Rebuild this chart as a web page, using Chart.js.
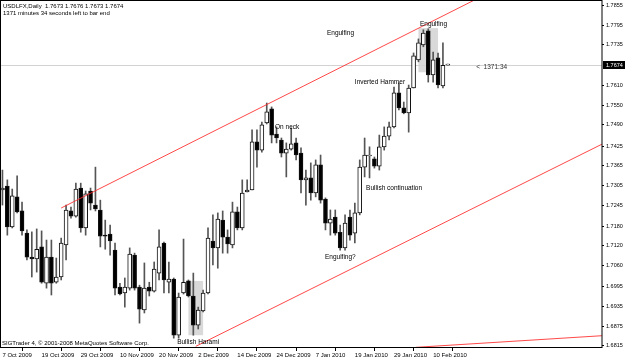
<!DOCTYPE html>
<html>
<head>
<meta charset="utf-8">
<script src="https://cdn.jsdelivr.net/npm/chart.js@4.4.1/dist/chart.umd.min.js"></script>
<style>
  html, body { margin: 0; padding: 0; background: #fff; }
  #wrap { width: 625px; height: 364px; }
</style>
</head>
<body>
<div id="wrap"><canvas id="chart" width="625" height="364"></canvas></div>
<script>
// USDLFX daily bars, 7 Oct 2009 .. 15 Feb 2010
const openP = [
  1.7291, 1.7303, 1.7178, 1.7270, 1.7227, 1.7159, 1.7086, 1.7080, 1.7117, 1.7006,
  1.7086, 1.7009, 1.7025, 1.7123, 1.7227, 1.7211, 1.7297, 1.7175, 1.7288, 1.7245,
  1.7230, 1.7153, 1.7156, 1.7107, 1.6994, 1.6976, 1.6991, 1.7092, 1.6994, 1.6924,
  1.6994, 1.6982, 1.7037, 1.7129, 1.7009, 1.7019, 1.6847, 1.6976, 1.7013, 1.6967,
  1.6878, 1.6921, 1.6976, 1.7135, 1.7114, 1.7199, 1.7147, 1.7123, 1.7224, 1.7175,
  1.7285, 1.7291, 1.7438, 1.7413, 1.7496, 1.7539, 1.7462, 1.7444, 1.7404, 1.7416,
  1.7435, 1.7404, 1.7322, 1.7328, 1.7282, 1.7368, 1.7263, 1.7190, 1.7208, 1.7162,
  1.7114, 1.7208, 1.7159, 1.7221, 1.7361, 1.7395, 1.7386, 1.7364, 1.7423, 1.7456,
  1.7484, 1.7588, 1.7542, 1.7527, 1.7603, 1.7689, 1.7735, 1.7778, 1.7643, 1.7695,
  1.7609, 1.7673
];
const highP = [
  1.7352, 1.7322, 1.7294, 1.7334, 1.7254, 1.7169, 1.7163, 1.7172, 1.7166, 1.7138,
  1.7138, 1.7083, 1.7144, 1.7245, 1.7239, 1.7312, 1.7312, 1.7288, 1.7297, 1.7361,
  1.7260, 1.7199, 1.7184, 1.7129, 1.7006, 1.7022, 1.7114, 1.7098, 1.7000, 1.7068,
  1.7009, 1.7071, 1.7169, 1.7132, 1.7071, 1.7022, 1.6976, 1.7141, 1.7016, 1.7037,
  1.6933, 1.6985, 1.7175, 1.7215, 1.7221, 1.7227, 1.7169, 1.7254, 1.7239, 1.7322,
  1.7322, 1.7475, 1.7475, 1.7499, 1.7557, 1.7545, 1.7484, 1.7450, 1.7435, 1.7481,
  1.7450, 1.7420, 1.7352, 1.7374, 1.7383, 1.7398, 1.7267, 1.7230, 1.7230, 1.7184,
  1.7215, 1.7230, 1.7251, 1.7383, 1.7450, 1.7423, 1.7392, 1.7459, 1.7484, 1.7499,
  1.7606, 1.7618, 1.7560, 1.7612, 1.7710, 1.7753, 1.7781, 1.7784, 1.7713, 1.7710,
  1.7741, 1.7676
];
const lowP = [
  1.7245, 1.7153, 1.7175, 1.7221, 1.7153, 1.7077, 1.7025, 1.7040, 1.7006, 1.6991,
  1.6970, 1.7006, 1.7016, 1.7077, 1.7205, 1.7208, 1.7162, 1.7153, 1.7230, 1.7227,
  1.7117, 1.7110, 1.7092, 1.6970, 1.6970, 1.6933, 1.6985, 1.6985, 1.6884, 1.6915,
  1.6967, 1.6979, 1.7016, 1.6976, 1.6976, 1.6838, 1.6838, 1.6973, 1.6964, 1.6847,
  1.6866, 1.6918, 1.6973, 1.7062, 1.7052, 1.7098, 1.7098, 1.7114, 1.7169, 1.7169,
  1.7285, 1.7291, 1.7361, 1.7407, 1.7493, 1.7435, 1.7435, 1.7392, 1.7331, 1.7413,
  1.7383, 1.7282, 1.7245, 1.7260, 1.7270, 1.7251, 1.7169, 1.7153, 1.7153, 1.7107,
  1.7107, 1.7138, 1.7129, 1.7215, 1.7331, 1.7328, 1.7358, 1.7352, 1.7413, 1.7444,
  1.7481, 1.7536, 1.7524, 1.7468, 1.7603, 1.7683, 1.7729, 1.7621, 1.7621, 1.7603,
  1.7603, 1.7673
];
const closeP = [
  1.7297, 1.7178, 1.7273, 1.7224, 1.7166, 1.7086, 1.7080, 1.7110, 1.7009, 1.7086,
  1.7006, 1.7025, 1.7129, 1.7230, 1.7211, 1.7294, 1.7175, 1.7279, 1.7251, 1.7233,
  1.7150, 1.7150, 1.7135, 1.6991, 1.6973, 1.6994, 1.7095, 1.6991, 1.6927, 1.6991,
  1.6982, 1.7049, 1.7117, 1.7016, 1.7019, 1.6847, 1.6964, 1.7009, 1.6967, 1.6878,
  1.6924, 1.6976, 1.7144, 1.7114, 1.7202, 1.7147, 1.7126, 1.7224, 1.7175, 1.7282,
  1.7291, 1.7438, 1.7413, 1.7490, 1.7530, 1.7459, 1.7450, 1.7404, 1.7416, 1.7432,
  1.7398, 1.7322, 1.7328, 1.7282, 1.7368, 1.7260, 1.7190, 1.7202, 1.7159, 1.7114,
  1.7190, 1.7153, 1.7221, 1.7361, 1.7398, 1.7395, 1.7364, 1.7423, 1.7456, 1.7484,
  1.7588, 1.7542, 1.7527, 1.7603, 1.7701, 1.7741, 1.7771, 1.7643, 1.7689, 1.7612,
  1.7672, 1.7674
];

// axis labels
const dateLabels = ['7 Oct 2009', '19 Oct 2009', '29 Oct 2009', '10 Nov 2009', '20 Nov 2009', '2 Dec 2009',
  '14 Dec 2009', '24 Dec 2009', '7 Jan 2010', '19 Jan 2010', '29 Jan 2010', '10 Feb 2010'];
const dateEvery = 8;        // a date label every 8 bars
const barSlots = 123;       // bars that fit across the window
const priceTicks = [1.7855, 1.7795, 1.7735, 1.7610, 1.7550, 1.7490, 1.7425, 1.7365, 1.7305, 1.7245,
  1.7180, 1.7120, 1.7060, 1.6995, 1.6935, 1.6875, 1.6815];
const priceMin = 1.6811, priceMax = 1.7872;

// trend lines, as [bar index, price]
const upperLine = [[12, 1.7236], [110, 1.7974]];
const lowerLine = [[39.5, 1.6813], [123, 1.7435]];
const bottomLine = [[84.5, 1.6810], [123, 1.6846]];

// highlighted pattern boxes: bar from/to, price top/bottom
const boxes = [
  { from: 38, to: 41, top: 1.7013, bottom: 1.6847 },
  { from: 85, to: 89, top: 1.7786, bottom: 1.7651 }
];

// pattern labels: text, bar index, price
const notes = [
  ['Engulfing', 66.3, 1.7771],
  ['Engulfing', 85.3, 1.7799],
  ['Inverted Hammer', 72.0, 1.7621],
  ['On neck', 55.7, 1.7484],
  ['Bullish continuation', 74.3, 1.7297],
  ['Engulfing?', 65.9, 1.7086],
  ['Bullish Harami', 35.7, 1.6826]
];

const lastPrice = closeP[closeP.length - 1];
const FONT = '"Liberation Sans", Arial, sans-serif';
const RED = 'rgba(255, 40, 40, 0.85)';

const bars = openP.map((o, i) => i);
const bodyData = bars.map(i => ({ x: i, y: [openP[i], closeP[i]] }));
const wickData = bars.map(i => ({ x: i, y: [lowP[i], highP[i]] }));
const toPts = arr => arr.map(p => ({ x: p[0], y: p[1] }));

const decor = {
  id: 'decor',
  beforeDatasetsDraw(chart) {
    const { ctx, chartArea: a, scales: { x, y } } = chart;
    ctx.save();
    ctx.fillStyle = '#d9d9d9';
    boxes.forEach(b => {
      const x0 = x.getPixelForValue(b.from), x1 = x.getPixelForValue(b.to);
      const y0 = y.getPixelForValue(b.top), y1 = y.getPixelForValue(b.bottom);
      ctx.fillRect(x0, y0, x1 - x0, y1 - y0);
    });
    // bid line
    const by = Math.round(y.getPixelForValue(lastPrice)) + 0.5;
    ctx.strokeStyle = '#d2d2d2';
    ctx.lineWidth = 1;
    ctx.beginPath();
    ctx.moveTo(a.left, by);
    ctx.lineTo(a.right, by);
    ctx.stroke();
    ctx.restore();
  },
  afterDraw(chart) {
    const { ctx, chartArea: a, scales: { x, y } } = chart;
    ctx.save();
    ctx.textBaseline = 'middle';
    ctx.textAlign = 'left';
    ctx.fillStyle = '#000';

    ctx.font = '6.5px ' + FONT;
    notes.forEach(n => ctx.fillText(n[0], x.getPixelForValue(n[1]), y.getPixelForValue(n[2])));

    ctx.fillStyle = '#333';
    ctx.fillText('<  1371:34', x.getPixelForValue(96.8), y.getPixelForValue(lastPrice) + 2);

    ctx.fillStyle = '#000';
    ctx.font = '6px ' + FONT;
    ctx.fillText('USDLFX,Daily  1.7673 1.7676 1.7673 1.7674', 3, 6);
    ctx.fillText('1371 minutes 34 seconds left to bar end', 3, 13);
    ctx.fillText('SIGTrader 4, \u00a9 2001-2008 MetaQuotes Software Corp.', 2, a.bottom - 4);

    // frame
    ctx.strokeStyle = '#000';
    ctx.lineWidth = 1;
    ctx.strokeRect(a.left + 0.5, a.top + 0.5, a.right - a.left - 0.5, a.bottom - a.top);

    // last price marker on the axis
    const py = Math.round(y.getPixelForValue(lastPrice));
    ctx.fillStyle = '#000';
    ctx.fillRect(a.right + 1, py - 4, 22, 8);
    ctx.fillStyle = '#fff';
    ctx.font = '5.5px ' + FONT;
    ctx.fillText(lastPrice.toFixed(4), a.right + 4, py);
    ctx.restore();
  }
};

new Chart(document.getElementById('chart'), {
  type: 'bar',
  data: {
    datasets: [
      { type: 'line', data: toPts(upperLine), borderColor: RED, borderWidth: 1, pointRadius: 0, order: -1 },
      { type: 'line', data: toPts(lowerLine), borderColor: RED, borderWidth: 1, pointRadius: 0, order: -1 },
      { type: 'line', data: toPts(bottomLine), borderColor: RED, borderWidth: 1, pointRadius: 0, order: -1 },
      {
        data: bodyData,
        backgroundColor: ctx => closeP[ctx.dataIndex] >= openP[ctx.dataIndex] ? '#fff' : '#000',
        borderColor: '#111',
        borderWidth: 1,
        borderSkipped: false,
        barThickness: 4,
        minBarLength: 1,
        grouped: false,
        order: 0
      },
      {
        data: wickData,
        backgroundColor: '#555',
        borderWidth: 0,
        barThickness: 1,
        grouped: false,
        order: 1
      }
    ]
  },
  options: {
    responsive: false,
    animation: false,
    devicePixelRatio: 1,
    layout: { padding: 0 },
    plugins: { legend: { display: false }, tooltip: { enabled: false } },
    scales: {
      x: {
        type: 'linear',
        min: -0.5,
        max: barSlots - 0.5,
        offset: false,
        afterBuildTicks: s => { s.ticks = dateLabels.map((d, i) => ({ value: i * dateEvery })); },
        afterFit: s => { s.height = 17; s.paddingLeft = 0; s.paddingRight = 0; },
        grid: { drawOnChartArea: false, tickLength: 4, color: '#000' },
        border: { display: false },
        ticks: {
          autoSkip: false,
          maxRotation: 0,
          align: 'start',
          padding: 1,
          color: '#000',
          font: { family: FONT, size: 6 },
          callback: v => dateLabels[Math.round(v / dateEvery)]
        }
      },
      y: {
        position: 'right',
        min: priceMin,
        max: priceMax,
        afterBuildTicks: s => { s.ticks = priceTicks.map(v => ({ value: v })); },
        afterFit: s => { s.width = 23; s.paddingTop = 0; s.paddingBottom = 0; },
        grid: { drawOnChartArea: false, tickLength: 2, color: '#000' },
        border: { display: false },
        ticks: {
          padding: 2,
          color: '#000',
          font: { family: FONT, size: 5.5 },
          callback: v => v.toFixed(4)
        }
      }
    }
  },
  plugins: [decor]
});
</script>
</body>
</html>
